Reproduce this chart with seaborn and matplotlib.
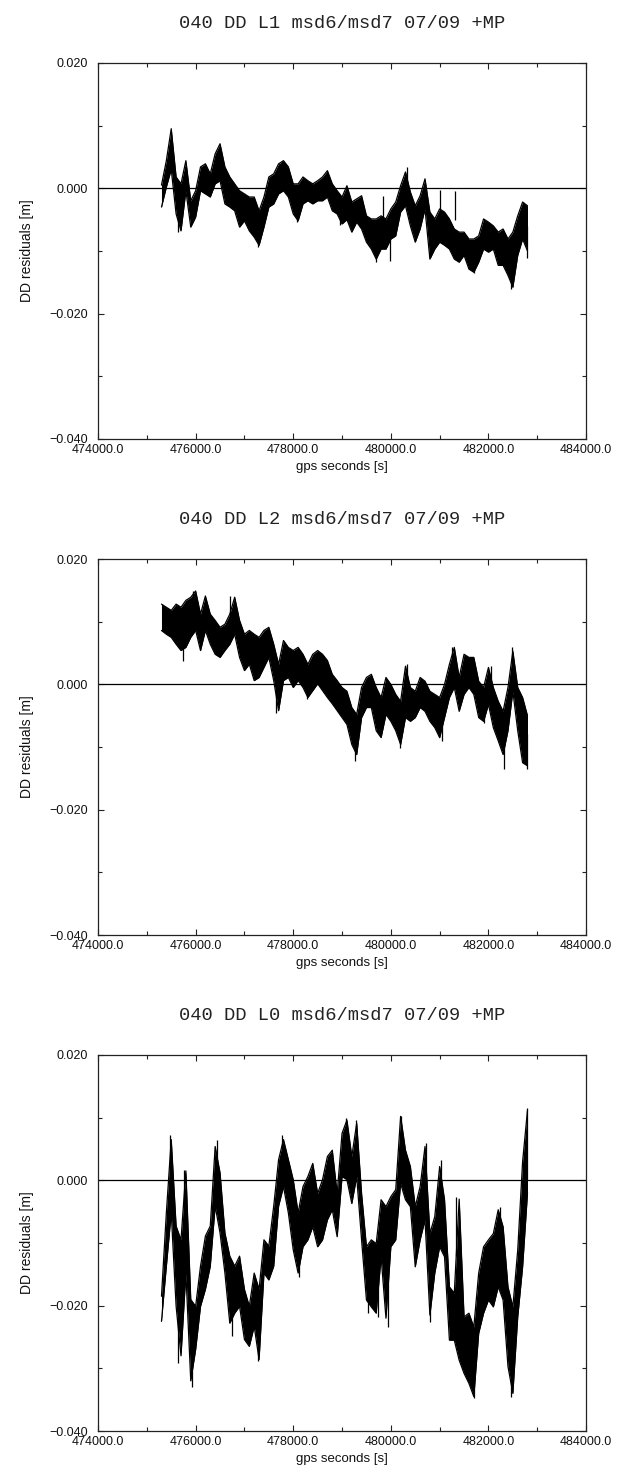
import matplotlib
matplotlib.use("Agg")
import matplotlib.pyplot as plt
from matplotlib.ticker import MultipleLocator
import seaborn as sns
import numpy as np
import pandas as pd

# gps epochs (s), one envelope sample every 100 s
epochs = [
    475300, 475400, 475500, 475600, 475700, 475800, 475900, 476000, 476100, 476200,
    476300, 476400, 476500, 476600, 476700, 476800, 476900, 477000, 477100, 477200,
    477300, 477400, 477500, 477600, 477700, 477800, 477900, 478000, 478100, 478200,
    478300, 478400, 478500, 478600, 478700, 478800, 478900, 479000, 479100, 479200,
    479300, 479400, 479500, 479600, 479700, 479800, 479900, 480000, 480100, 480200,
    480300, 480400, 480500, 480600, 480700, 480800, 480900, 481000, 481100, 481200,
    481300, 481400, 481500, 481600, 481700, 481800, 481900, 482000, 482100, 482200,
    482300, 482400, 482500, 482600, 482700, 482800,
]

# DD residuals in mm, upper / lower edge of the noise band
l1_hi = [
    0.5, 4.4, 9.5, 1.8, 0.7, 4.4, -2.0, -0.4, 3.4, 3.9,
    2.3, 5.5, 7.1, 3.4, 1.8, 0.7, -0.4, -0.9, -1.4, -1.4,
    -3.6, -1.4, 1.8, 2.3, 3.9, 4.4, 3.4, 0.7, 0.7, 1.8,
    1.2, 0.7, 1.2, 1.8, 2.8, 0.7, -0.4, -1.4, 0.4, -2.2,
    -1.7, -1.2, -4.4, -4.9, -4.9, -4.4, -4.9, -3.3, -2.2, 0.4,
    2.6, -0.6, -2.8, -1.2, 1.5, -3.8, -4.9, -3.3, -3.8, -4.9,
    -6.5, -7.0, -7.0, -8.1, -8.1, -7.6, -4.9, -5.4, -6.0, -7.0,
    -6.5, -8.1, -7.0, -4.4, -2.2, -2.8,
]
l1_lo = [
    -3.0, 0.2, 3.0, -4.1, -6.8, -0.4, -6.2, -4.6, -0.4, -0.9,
    -1.4, 0.7, 1.2, -2.5, -3.0, -3.6, -6.2, -5.2, -6.8, -7.8,
    -9.1, -6.2, -3.0, -2.5, -0.9, -0.4, -1.4, -4.1, -5.2, -2.5,
    -2.0, -2.5, -2.0, -2.0, -1.4, -3.6, -4.1, -5.7, -5.0, -7.0,
    -5.4, -6.5, -8.6, -9.7, -11.3, -9.7, -9.7, -8.1, -7.6, -3.8,
    -2.8, -6.0, -8.6, -6.5, -3.3, -11.3, -9.7, -8.6, -9.1, -9.7,
    -11.3, -11.8, -10.7, -12.9, -13.4, -11.8, -9.7, -10.2, -9.7, -12.3,
    -12.3, -13.9, -15.8, -10.7, -8.1, -10.0,
]
# single-epoch spikes sticking out of the band: time, band side, tip (mm)
l1_spike_t = [475640, 477282, 477768, 478076, 478964, 479702, 479833, 479975,
              480332, 480810, 481015, 481323, 481699, 482452, 482790]
l1_spike_from = [-3.0, -6.0, 1.0, -3.0, -3.0, -8.0, -5.0, -8.0,
                 0.0, -6.0, -4.0, -5.0, -10.0, -12.0, -6.0]
l1_spike_to = [-7.0, -9.3, 4.4, -5.4, -5.8, -11.8, -1.2, -11.6,
               3.4, -11.0, -0.3, -0.4, -13.5, -16.0, -11.2]

l2_hi = [
    12.8, 12.3, 11.8, 12.8, 12.3, 13.4, 13.9, 14.9, 11.2, 14.1,
    11.2, 10.2, 9.1, 9.6, 11.2, 13.9, 10.2, 8.0, 8.6, 8.0,
    7.5, 8.6, 9.1, 6.4, 3.2, 7.0, 5.9, 5.4, 5.9, 4.8,
    3.2, 4.8, 5.4, 4.8, 3.8, 1.6, 0.6, -0.5, -1.1, -3.7,
    -4.8, -0.5, 1.1, 1.6, -0.5, -2.1, 1.1, 0.0, -1.6, -2.7,
    2.9, -0.5, -1.1, 1.1, 0.5, -1.1, -1.6, -2.1, 0.0, 3.2,
    5.9, 1.1, 4.8, 4.3, 4.3, 0.5, -0.5, 2.7, -0.5, -2.7,
    -4.3, -0.5, 5.3, -0.5, -2.1, -5.0,
]
l2_lo = [
    8.6, 8.0, 7.5, 6.4, 5.4, 5.9, 7.5, 8.6, 5.4, 8.6,
    6.4, 4.8, 4.3, 5.4, 6.4, 8.0, 4.3, 2.2, 3.2, 0.6,
    1.1, 2.7, 4.3, 0.6, -4.2, 0.6, 1.1, -0.5, 0.6, -0.5,
    -2.1, -1.0, 0.1, -1.0, -2.1, -3.1, -4.2, -5.3, -6.4, -9.6,
    -11.2, -5.3, -3.7, -3.7, -7.4, -8.5, -4.8, -5.9, -7.4, -9.6,
    -5.3, -5.9, -5.3, -3.7, -4.3, -5.9, -6.9, -8.5, -5.3, -2.1,
    -0.5, -4.3, -1.6, -0.5, -1.6, -5.3, -5.9, -3.2, -6.9, -9.0,
    -11.2, -7.4, -1.1, -7.4, -12.5, -13.0,
]
l2_spike_t = [475751, 475956, 476709, 477653, 478282, 479274, 480197, 480334,
              481052, 481257, 481907, 482044, 482317, 482488, 482782]
l2_spike_from = [7.0, 10.0, 9.0, 0.0, 1.0, -7.0, -5.0, -1.0,
                 -4.0, 1.0, -3.0, -1.0, -8.0, 1.0, -8.0]
l2_spike_to = [3.8, 14.9, 14.1, -4.5, -2.3, -12.2, -10.1, 3.2,
               -9.0, 5.9, -6.1, 3.0, -13.5, 5.9, -13.5]

l0_hi = [
    -18.5, -5.2, 6.5, -7.3, -9.5, 1.5, -19.0, -20.1, -13.7, -8.9,
    -7.3, 5.4, 1.2, -8.4, -12.1, -13.7, -12.1, -17.4, -20.1, -14.8,
    -17.4, -9.5, -10.5, -4.1, 3.3, 6.5, 3.3, 0.1, -5.2, -1.0,
    0.6, 2.7, -2.1, 0.1, 3.8, 4.8, -2.1, 7.5, 9.6, 3.8,
    9.1, -2.1, -10.6, -9.5, -10.1, -3.1, -4.2, -2.6, -1.5, 10.2,
    4.8, 2.2, -4.2, -1.0, 5.4, -8.5, -5.8, 2.2, -3.1, -17.0,
    -18.0, -3.0, -21.8, -21.2, -23.4, -14.8, -10.6, -9.5, -8.5, -4.7,
    -7.4, -17.0, -20.2, -11.1, 3.0, 11.2,
]
l0_lo = [
    -22.5, -13.7, -5.2, -20.1, -28.0, -14.8, -32.0, -27.0, -20.1, -17.4,
    -13.7, -4.1, -8.4, -14.8, -22.8, -21.2, -20.1, -25.4, -26.5, -23.3,
    -28.6, -14.8, -15.9, -13.7, -4.1, -1.0, -5.2, -11.1, -14.8, -10.6,
    -9.5, -7.4, -10.6, -9.5, -6.3, -4.7, -9.0, 0.6, 0.1, -3.7,
    0.6, -9.5, -19.1, -20.2, -21.2, -12.2, -22.0, -10.6, -9.5, -0.5,
    -3.1, -4.2, -13.8, -9.5, -6.3, -21.5, -14.8, -10.6, -12.2, -25.5,
    -25.5, -28.7, -30.8, -32.4, -34.5, -24.4, -21.2, -19.1, -20.2, -17.0,
    -19.1, -29.7, -34.0, -21.8, -13.8, -2.0,
]
l0_spike_t = [475477, 475648, 475764, 475935, 476434, 476755, 477288, 477767,
              478116, 479087, 479292, 479539, 479730, 479935, 480202, 480729,
              480797, 481037, 481344, 481700, 482234, 482452, 482781]
l0_spike_from = [0.0, -20.0, -8.0, -25.0, 0.0, -18.0, -22.0, 0.0,
                 -10.0, 3.0, 3.0, -15.0, -15.0, -15.0, 3.0, -2.0,
                 -15.0, -3.0, -12.0, -28.0, -10.0, -26.0, 0.0]
l0_spike_to = [7.3, -29.1, 1.7, -32.9, 6.5, -24.9, -28.9, 7.3,
               -15.4, 9.9, 9.6, -21.2, -21.8, -23.4, 10.2, 5.9,
               -22.6, 3.2, -2.6, -34.8, -4.2, -34.5, 11.5]

titles = [
    "040 DD L1 msd6/msd7 07/09 +MP",
    "040 DD L2 msd6/msd7 07/09 +MP",
    "040 DD L0 msd6/msd7 07/09 +MP",
]
bands = [(l1_hi, l1_lo), (l2_hi, l2_lo), (l0_hi, l0_lo)]
spikes = [(l1_spike_t, l1_spike_from, l1_spike_to),
          (l2_spike_t, l2_spike_from, l2_spike_to),
          (l0_spike_t, l0_spike_from, l0_spike_to)]

x_ticks = [474000, 476000, 478000, 480000, 482000, 484000]
x_tick_labels = ["474000.0", "476000.0", "478000.0", "480000.0", "482000.0", "484000.0"]
y_ticks = [-0.040, -0.020, 0.000, 0.020]
y_tick_labels = ["\u22120.040", "\u22120.020", "0.000", "0.020"]

sns.set_theme(style="ticks")
plt.rcParams["font.family"] = ["Liberation Sans", "DejaVu Sans"]

fig = plt.figure(figsize=(6.24, 14.73), dpi=100)

# axes boxes, one per panel (figure fractions)
bottoms = [0.7020, 0.3652, 0.0285]

for title, (hi, lo), (st, sf, stp), bottom in zip(titles, bands, spikes, bottoms):
    ax = fig.add_axes([0.1571, bottom, 0.7821, 0.2553])
    df = pd.DataFrame({"t": epochs,
                       "hi": np.array(hi) / 1000.0,
                       "lo": np.array(lo) / 1000.0})
    ax.fill_between(df["t"], df["lo"], df["hi"], color="black", linewidth=0)
    sns.lineplot(data=df, x="t", y="hi", ax=ax, color="black",
                 linewidth=0.9, estimator=None)
    sns.lineplot(data=df, x="t", y="lo", ax=ax, color="black",
                 linewidth=0.9, estimator=None)
    ax.vlines(st, np.array(sf) / 1000.0, np.array(stp) / 1000.0,
              color="black", linewidth=0.9)
    ax.axhline(0.0, color="black", linewidth=0.9)

    ax.set_xlim(474000, 484000)
    ax.set_ylim(-0.040, 0.020)
    ax.set_xticks(x_ticks)
    ax.set_xticklabels(x_tick_labels)
    ax.set_yticks(y_ticks)
    ax.set_yticklabels(y_tick_labels)
    ax.xaxis.set_minor_locator(MultipleLocator(1000))
    ax.yaxis.set_minor_locator(MultipleLocator(0.010))

    ax.tick_params(which="both", direction="in", top=True, right=True,
                   colors="#222222", labelcolor="#111111", labelsize=9)
    ax.tick_params(which="major", length=4, width=0.8)
    ax.tick_params(which="minor", length=3, width=0.8)
    ax.tick_params(axis="x", pad=3.5)
    ax.tick_params(axis="y", pad=7)

    for sp in ax.spines.values():
        sp.set_color("#222222")
        sp.set_linewidth(0.9)

    ax.set_xlabel("gps seconds [s]", fontsize=9.5, color="#111111", labelpad=4)
    ax.set_ylabel("DD residuals [m]", fontsize=10, color="#111111", labelpad=11)
    ax.text(0.5, 1.104, title, transform=ax.transAxes, ha="center", va="center",
            family=["Liberation Mono", "DejaVu Sans Mono"], fontsize=13.5,
            color="#222222")

fig.savefig("out.png", dpi=100)
